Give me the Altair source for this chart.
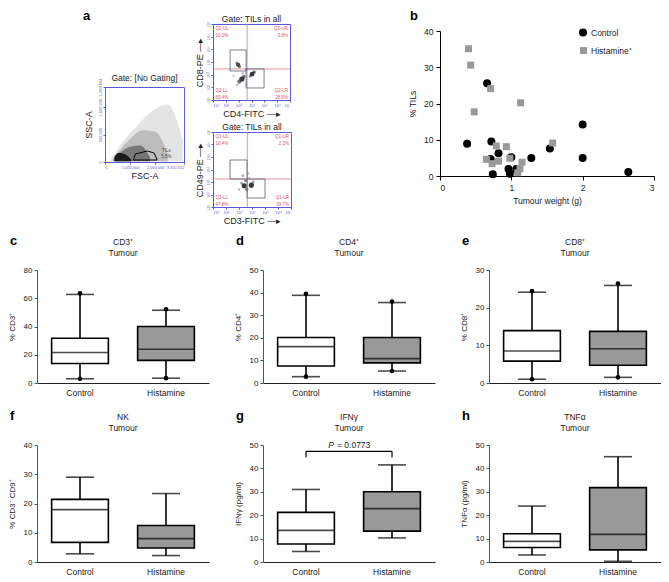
import altair as alt
import pandas as pd

FONT = "Liberation Sans"
INK = "#222222"
GRAY = "#999999"
BLUE = "#5a5ad8"
PINK = "#e07a86"
QTXT = "#e0506a"

# ---------------- panel a (flow cytometry, schematic) ----------------
fsc_xticks = [0, 1000000, 2000000, 3150312]
fsc_yticks = [0, 500000, 1000000, 1368604]
cloud_outer_x = [0.2e6, 0.6e6, 1.2e6, 1.8e6, 2.5e6, 3.1e6]
cloud_outer_hi = [0.03e6, 0.3e6, 0.62e6, 0.9e6, 1.05e6, 0.4e6]
cloud_mid_x = [0.3e6, 0.6e6, 1.0e6, 1.5e6, 2.0e6, 2.5e6]
cloud_mid_hi = [0.04e6, 0.22e6, 0.42e6, 0.58e6, 0.55e6, 0.15e6]
cloud_in_x = [0.35e6, 0.6e6, 1.0e6, 1.4e6, 1.8e6]
cloud_in_hi = [0.06e6, 0.17e6, 0.28e6, 0.3e6, 0.08e6]
core_x = [0.38e6, 0.55e6, 0.8e6, 1.05e6]
core_hi = [0.1e6, 0.17e6, 0.14e6, 0.04e6]
cloud_lo = 0.015e6
gate_x = [1.13e6, 1.21e6, 1.69e6, 1.96e6, 2.08e6, 1.13e6]
gate_y = [0.036e6, 0.146e6, 0.2e6, 0.164e6, 0.036e6, 0.036e6]

cd8_q = (3.66, 3.45)
cd8_gates = [(2.33, 3.58, 3.29, 4.95), (3.58, 4.98, 1.95, 3.45)]
cd8_cloud_x = [2.95, 3.05, 2.85, 3.25, 3.05, 3.4, 2.9, 4.05, 4.2, 3.9, 3.6, 3.3, 2.6, 3.6]
cd8_cloud_y = [3.8, 3.65, 3.95, 2.65, 2.45, 2.85, 2.2, 3.05, 3.2, 2.9, 3.4, 3.1, 2.9, 2.2]
cd8_cloud_s = [18, 12, 8, 28, 18, 14, 8, 22, 12, 10, 6, 6, 5, 5]
cd8_cloud_o = [0.8, 0.6, 0.4, 0.85, 0.6, 0.6, 0.3, 0.9, 0.7, 0.5, 0.3, 0.3, 0.25, 0.3]
cd8_labels = [["Q2-UL", "10.2%"], ["Q2-UR", "0.8%"], ["Q2-LL", "60.4%"], ["Q2-LR", "28.6%"]]

cd49_q = (3.64, 3.24)
cd49_gates = [(2.31, 3.62, 3.24, 4.76), (3.62, 5.0, 1.72, 3.24)]
cd49_cloud_x = [3.4, 3.95, 3.6, 3.5, 3.3, 3.7, 3.2, 4.1, 3.0, 3.8]
cd49_cloud_y = [2.7, 2.75, 2.4, 3.1, 3.5, 3.7, 2.9, 3.0, 2.4, 3.3]
cd49_cloud_s = [26, 26, 12, 10, 8, 6, 8, 8, 6, 6]
cd49_cloud_o = [0.9, 0.9, 0.6, 0.5, 0.35, 0.3, 0.4, 0.4, 0.3, 0.3]
cd49_labels = [["Q1-UL", "10.4%"], ["Q1-UR", "2.2%"], ["Q1-LL", "47.8%"], ["Q1-LR", "39.7%"]]

# ---------------- panel b ----------------
ctrl_w = [0.38, 0.66, 0.72, 0.71, 0.74, 0.82, 0.96, 0.98, 1.00, 1.07, 1.28, 1.54, 2.00, 2.00, 2.64]
ctrl_t = [8.9, 25.6, 9.5, 4.7, 0.5, 6.3, 1.9, 0.6, 5.2, 1.9, 5.0, 7.6, 14.2, 5.0, 1.1]
hist_w = [0.40, 0.43, 0.48, 0.71, 1.13, 0.65, 0.73, 0.79, 0.82, 0.93, 0.98, 1.09, 1.12, 1.15, 1.58]
hist_t = [35.1, 30.6, 17.7, 24.1, 20.2, 4.6, 3.4, 8.3, 4.1, 8.1, 4.9, 0.9, 2.0, 3.8, 9.1]
b_groups = ["Control", "Histamine⁺"]

# ---------------- box plots c-h: [lo, q1, median, q3, hi] per group ----------------
GROUPS = ["Control", "Histamine"]
c_stats = [[3.0, 3.4], [13.8, 16.0], [21.6, 23.9], [31.7, 40.0], [62.7, 51.5]]
c_top = [63.5, 52.2]
d_stats = [[2.8, 5.3], [7.5, 8.9], [16.1, 10.8], [20.1, 20.1], [38.8, 35.6]]
d_top = [39.5, 36.0]
e_stats = [[1.0, 1.5], [5.8, 4.7], [8.5, 9.1], [13.9, 13.7], [24.1, 25.9]]
e_top = [24.4, 26.4]
f_stats = [[2.8, 2.2], [6.7, 4.8], [17.9, 8.0], [21.4, 12.5], [29.0, 23.4]]
g_stats = [[4.5, 10.3], [7.7, 13.2], [13.5, 22.8], [21.2, 30.0], [31.0, 41.5]]
h_stats = [[3.0, 0.3], [6.2, 5.2], [8.8, 11.8], [12.1, 31.8], [23.9, 45.0]]
g_bracket = [44.8, 47.3]
g_ptext = ["P", "= 0.0773"]

BW = 172  # box panel plot width


def text_layer(txt, x, y, size=8.5, weight="normal", align="center", baseline="middle", color=INK):
    return alt.Chart(pd.DataFrame({"t": [txt]})).mark_text(
        align=align, baseline=baseline, fontSize=size, fontWeight=weight, color=color
    ).encode(text="t:N", x=alt.value(x), y=alt.value(y))


def letter_layer(ch, x, y):
    return text_layer(ch, x, y, size=13, weight="bold", align="left", baseline="alphabetic", color="black")


def letter_spacer(ch, x, y):
    return alt.layer(letter_layer(ch, x, y)).properties(width=1, height=1)


def flow_axis(title, values, label_expr, angle=0, title_pad=2):
    return alt.Axis(title=title, values=values, labelExpr=label_expr, grid=False,
                    domainColor=BLUE, tickColor=BLUE, labelColor=BLUE, labelFontSize=4,
                    tickSize=2, labelPadding=1, labelAngle=angle, titleFontSize=9,
                    titleFontWeight="normal", titleColor=INK, titlePadding=title_pad)


SUP = "'10' + ['⁰','¹','²','³','⁴','⁵','⁶','⁷'][datum.value]"
DOTS = "replace(format(datum.value, ','), regexp(',', 'g'), '.')"

# FSC / SSC plot
fx = alt.Scale(domain=[0, 3150312], nice=False)
fy = alt.Scale(domain=[0, 1368604], nice=False)
fax = flow_axis("FSC-A", fsc_xticks, DOTS)
fay = flow_axis("SSC-A", fsc_yticks, DOTS, angle=-90, title_pad=5)


def area_layer(xs, his, color):
    df = pd.DataFrame({"x": xs, "hi": his, "lo": [cloud_lo] * len(xs)})
    return alt.Chart(df).mark_area(color=color, interpolate="monotone").encode(
        x=alt.X("x:Q", scale=fx, axis=fax), y=alt.Y("hi:Q", scale=fy, axis=fay), y2="lo:Q")


gate_df = pd.DataFrame({"x": gate_x, "y": gate_y, "o": list(range(len(gate_x)))})
fsc = alt.layer(
    area_layer(cloud_outer_x, cloud_outer_hi, "#e4e4e4"),
    area_layer(cloud_mid_x, cloud_mid_hi, "#bdbdbd"),
    area_layer(cloud_in_x, cloud_in_hi, "#777777"),
    area_layer(core_x, core_hi, "#1a1a1a"),
    alt.Chart(gate_df).mark_line(color="black", strokeWidth=1).encode(
        x=alt.X("x:Q", scale=fx, axis=fax), y=alt.Y("y:Q", scale=fy, axis=fay), order="o:Q"),
    alt.Chart(pd.DataFrame({"x": [2.45e6, 2.45e6], "y": [0.2e6, 0.1e6], "t": ["TILs", "5.5%"]}))
    .mark_text(fontSize=4.5, color="#444444").encode(
        x=alt.X("x:Q", scale=fx, axis=fax), y=alt.Y("y:Q", scale=fy, axis=fay), text="t:N"),
    text_layer("Gate: [No Gating]", 39.5, -9),
).properties(width=79, height=75, view=alt.ViewBackground(stroke=BLUE, strokeWidth=1))


def quad_panel(xtitle, ytitle, q, gates, cx, cy, cs, co, labels, w, h):
    sx = alt.Scale(domain=[1, 7], nice=False, zero=False)
    sy = alt.Scale(domain=[1, 7], nice=False, zero=False)
    ax = flow_axis(xtitle, [1, 2, 3, 4, 5, 6, 7], SUP)
    ay = flow_axis(ytitle, [1, 2, 3, 4, 5, 6, 7], SUP, angle=-90)

    def X(f):
        return alt.X(f, scale=sx, axis=ax)

    def Y(f):
        return alt.Y(f, scale=sy, axis=ay)

    cloud = alt.Chart(pd.DataFrame({"x": cx, "y": cy, "s": cs, "o": co})).mark_circle(color="#222222").encode(
        x=X("x:Q"), y=Y("y:Q"), size=alt.Size("s:Q", scale=None, legend=None),
        opacity=alt.Opacity("o:Q", scale=None, legend=None))
    qv = alt.Chart(pd.DataFrame({"v": [q[0]]})).mark_rule(color=PINK, strokeWidth=0.8).encode(x=X("v:Q"))
    qh = alt.Chart(pd.DataFrame({"v": [q[1]]})).mark_rule(color=PINK, strokeWidth=0.8).encode(y=Y("v:Q"))
    gdf = pd.DataFrame({"x1": [g[0] for g in gates], "x2": [g[1] for g in gates],
                        "y1": [g[2] for g in gates], "y2": [g[3] for g in gates]})
    gl = alt.Chart(gdf).mark_rect(fillOpacity=0, stroke="#50607a", strokeWidth=0.8).encode(
        x=X("x1:Q"), x2="x2:Q", y=Y("y1:Q"), y2="y2:Q")
    left = pd.DataFrame({"x": [1.2] * 4, "y": [6.6, 6.05, 1.71, 1.16],
                         "t": [labels[0][0], labels[0][1], labels[2][0], labels[2][1]]})
    right = pd.DataFrame({"x": [6.85] * 4, "y": [6.6, 6.05, 1.71, 1.16],
                          "t": [labels[1][0], labels[1][1], labels[3][0], labels[3][1]]})
    tl = alt.Chart(left).mark_text(align="left", fontSize=4.5, color=QTXT).encode(x=X("x:Q"), y=Y("y:Q"), text="t:N")
    tr = alt.Chart(right).mark_text(align="right", fontSize=4.5, color=QTXT).encode(x=X("x:Q"), y=Y("y:Q"), text="t:N")
    return alt.layer(cloud, qv, qh, gl, tl, tr, text_layer("Gate: TILs in all", w / 2, -5)).properties(
        width=w, height=h, view=alt.ViewBackground(stroke=BLUE, strokeWidth=1))


cd8 = quad_panel("CD4-FITC  —▸", "CD8-PE  —▸", cd8_q, cd8_gates, cd8_cloud_x, cd8_cloud_y,
                 cd8_cloud_s, cd8_cloud_o, cd8_labels, 77, 76)
cd49 = quad_panel("CD3-FITC  —▸", "CD49-PE  —▸", cd49_q, cd49_gates, cd49_cloud_x, cd49_cloud_y,
                  cd49_cloud_s, cd49_cloud_o, cd49_labels, 78, 75)
cd_stack = alt.vconcat(cd8, cd49, spacing=3)

spacer = alt.Chart(pd.DataFrame({"v": [0]})).mark_rect(opacity=0).encode(
    x=alt.value(0), x2=alt.value(1), y=alt.value(0), y2=alt.value(1)).properties(width=37, height=1)

fsc_col = alt.vconcat(letter_spacer("a", -22, -4), fsc, spacing=48)

# ---------------- panel b chart ----------------
BWB = 214
bdf = pd.DataFrame({"w": ctrl_w + hist_w, "t": ctrl_t + hist_t,
                    "g": [b_groups[0]] * len(ctrl_w) + [b_groups[1]] * len(hist_w)})
scatter = alt.Chart(bdf).mark_point(filled=True, opacity=1).encode(
    x=alt.X("w:Q", scale=alt.Scale(domain=[0, 3], nice=False),
            axis=alt.Axis(values=[0, 1, 2, 3], title="Tumour weight (g)", grid=False, tickSize=4,
                          labelFontSize=8.5, titleFontSize=8.5, titleFontWeight="normal",
                          domainColor="black", tickColor="black", labelColor=INK, titleColor=INK,
                          labelPadding=3, titlePadding=5)),
    y=alt.Y("t:Q", scale=alt.Scale(domain=[0, 40], nice=False),
            axis=alt.Axis(values=[0, 10, 20, 30, 40], title="% TILs", grid=False, tickSize=4,
                          labelFontSize=8.5, titleFontSize=8.5, titleFontWeight="normal",
                          domainColor="black", tickColor="black", labelColor=INK, titleColor=INK,
                          labelPadding=3, titlePadding=6)),
    color=alt.Color("g:N", scale=alt.Scale(domain=b_groups, range=["black", GRAY]), legend=None),
    shape=alt.Shape("g:N", scale=alt.Scale(domain=b_groups, range=["circle", "square"]), legend=None),
    size=alt.Size("g:N", scale=alt.Scale(domain=b_groups, range=[64, 49]), legend=None),
)
leg_c = alt.Chart(pd.DataFrame({"g": [b_groups[0]]})).mark_point(
    filled=True, shape="circle", size=64, color="black", opacity=1).encode(x=alt.value(143), y=alt.value(1.5))
leg_h = alt.Chart(pd.DataFrame({"g": [b_groups[1]]})).mark_point(
    filled=True, shape="square", size=49, color=GRAY, opacity=1).encode(x=alt.value(143.5), y=alt.value(19.6))
panel_b = alt.layer(
    scatter, leg_c, leg_h,
    text_layer(b_groups[0], 151, 1.5, align="left"),
    text_layer(b_groups[1], 151, 19.6, align="left"),
).properties(width=BWB, height=145)
b_col = alt.vconcat(letter_spacer("b", -30, -4), panel_b, spacing=2)


# ---------------- box panels ----------------
def box_panel(letter, title, ytitle, ymax, yticks, stats, height, top_dots=None, bracket=None):
    df = pd.DataFrame({"group": GROUPS, "lo": stats[0], "q1": stats[1], "med": stats[2],
                       "q3": stats[3], "hi": stats[4]})
    xs = alt.Scale(domain=GROUPS, paddingInner=0.34, paddingOuter=0.17)
    xax = alt.Axis(title=None, labelAngle=0, ticks=False, domainColor=INK, labelFontSize=8.5,
                   labelPadding=5, labelColor=INK)
    X = alt.X("group:N", scale=xs, axis=xax)
    ys = alt.Scale(domain=[0, ymax], nice=False)
    yax = alt.Axis(title=ytitle, values=yticks, tickSize=3, labelPadding=2, labelFontSize=8,
                   titleFontSize=8, titleFontWeight="normal", titleColor=INK, labelColor=INK,
                   domainColor="#555555", tickColor="#555555", minExtent=18, maxExtent=18,
                   titlePadding=3, grid=False)

    def Y(f):
        return alt.Y(f, scale=ys, axis=yax)

    base = alt.Chart(df)
    layers = [
        base.mark_rule(color="black", strokeWidth=1.6).encode(x=X, y=Y("lo:Q"), y2="hi:Q"),
        base.mark_bar(stroke="black", strokeWidth=1.6).encode(
            x=X, y=Y("q1:Q"), y2="q3:Q",
            fill=alt.Fill("group:N", scale=alt.Scale(domain=GROUPS, range=["white", GRAY]), legend=None)),
        base.mark_tick(color="black", thickness=1.6, size=57).encode(x=X, y=Y("med:Q")),
        base.transform_fold(["lo", "hi"], as_=["k", "v"]).mark_tick(
            color="black", thickness=1.6, size=28).encode(x=X, y=Y("v:Q")),
    ]
    if top_dots is not None:
        ddf = pd.DataFrame({"group": GROUPS * 2, "v": list(top_dots) + list(stats[0])})
        layers.append(alt.Chart(ddf).mark_circle(color="black", size=22, opacity=1).encode(x=X, y=Y("v:Q")))
    if bracket is not None:
        vdf = pd.DataFrame({"group": GROUPS, "a": [bracket[0]] * 2, "b": [bracket[1]] * 2})
        layers.append(alt.Chart(vdf).mark_rule(color="black", strokeWidth=1.2).encode(
            x=X, y=Y("a:Q"), y2="b:Q"))
        hdf = pd.DataFrame({"group": [GROUPS[0]], "g2": [GROUPS[1]], "b": [bracket[1]]})
        layers.append(alt.Chart(hdf).mark_rule(color="black", strokeWidth=1.2).encode(
            x=X, x2="g2:N", y=Y("b:Q")))
        pdf = pd.DataFrame({"p": [g_ptext[0]], "r": [g_ptext[1]], "y": [ymax]})
        layers.append(alt.Chart(pdf).mark_text(align="right", baseline="middle", fontSize=8.5,
                                               fontStyle="italic", color=INK).encode(
            x=alt.value(BW / 2 - 15), y=Y("y:Q"), text="p:N"))
        layers.append(alt.Chart(pdf).mark_text(align="left", baseline="middle", fontSize=8.5,
                                               color=INK).encode(
            x=alt.value(BW / 2 - 12), y=Y("y:Q"), text="r:N"))
    layers.append(text_layer(title, BW / 2, -28))
    layers.append(text_layer("Tumour", BW / 2, -17))
    layers.append(letter_layer(letter, -27, -25))
    return alt.layer(*layers).properties(width=BW, height=height)


H2, H3 = 113, 117
pc = box_panel("c", "CD3⁺", "% CD3⁺", 80, [0, 20, 40, 60, 80], c_stats, H2, c_top)
pd_ = box_panel("d", "CD4⁺", "% CD4⁺", 50, [0, 10, 20, 30, 40, 50], d_stats, H2, d_top)
pe = box_panel("e", "CD8⁺", "% CD8⁺", 30, [0, 10, 20, 30], e_stats, H2, e_top)
pf = box_panel("f", "NK", "% CD3⁻ CD9⁺", 40, [0, 10, 20, 30, 40], f_stats, H3)
pg = box_panel("g", "IFNγ", "IFNγ (pg/ml)", 50, [0, 10, 20, 30, 40, 50], g_stats, H3, bracket=g_bracket)
ph = box_panel("h", "TNFα", "TNFα (pg/ml)", 50, [0, 10, 20, 30, 40, 50], h_stats, H3)

row1 = alt.hconcat(alt.hconcat(spacer, fsc_col, cd_stack, spacing=9), b_col, spacing=116)
row2 = alt.hconcat(pc, pd_, pe, spacing=25)
row3 = alt.hconcat(pf, pg, ph, spacing=25)

chart = alt.vconcat(row1, alt.vconcat(row2, row3, spacing=13), spacing=9).properties(
    padding={"top": 2, "left": 0, "right": 0, "bottom": 0}).configure(
    font=FONT).configure_view(strokeWidth=0)

chart.save("out.html", embed_options={"renderer": "svg", "actions": False})
